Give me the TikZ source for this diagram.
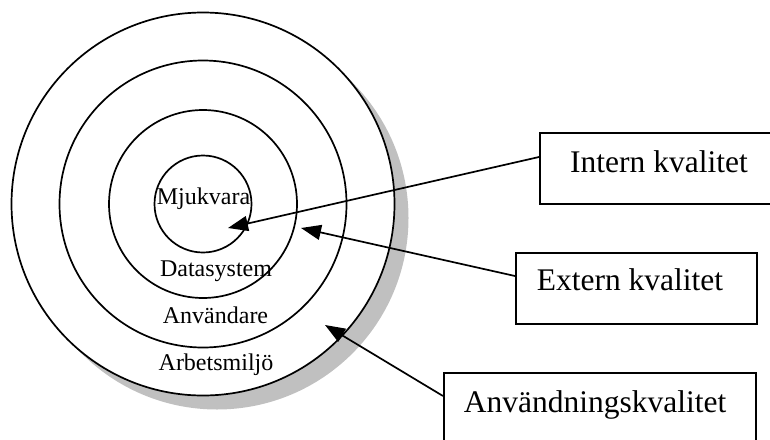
\documentclass[tikz,border=0pt]{standalone}
\usepackage{fontspec}
\setmainfont{Liberation Serif}
\usetikzlibrary{arrows.meta}
\definecolor{shadowgray}{RGB}{192,192,192}
\begin{document}
\begin{tikzpicture}[x=1pt,y=-1pt,
  ring/.style={circle, draw, line width=1.7pt, minimum size=#1, inner sep=0pt},
  layer/.style={anchor=base, inner sep=0pt, font=\fontsize{24}{26}\selectfont},
  qbox/.style={draw, line width=1.7pt, anchor=north west, inner sep=0pt, minimum height=#1},
  qlabel/.style={anchor=base, inner sep=0pt, font=\fontsize{31.5}{34}\selectfont},
  arr/.style={line width=1.7pt, -{Triangle[length=20pt,width=15pt]}}]
\useasboundingbox (0,0) rectangle (770,439);
\clip (0,0) rectangle (770,439);

% shadow behind the outer ring
\fill[shadowgray] (217,218) circle[radius=191.5pt];

% concentric rings
\node[ring=383pt, fill=white] (env) at (203,204) {};
\node[ring=287pt] (user) at (203,204) {};
\node[ring=188pt] (sys) at (203,204) {};
\node[ring=97pt] (sw) at (203,204) {};

% ring labels
\node[layer] (lsw) at (203.5,204) {Mjukvara};
\node[layer] (lsys) at (216,276) {Datasystem};
\node[layer] (luser) at (215.5,323) {Användare};
\node[layer] (lenv) at (216,370) {Arbetsmiljö};

% quality boxes
\node[qbox=71pt, minimum width=260pt] (intern) at (539,132) {};
\node[qbox=71pt, minimum width=241pt] (extern) at (515,252) {};
\node[qbox=100pt, minimum width=312pt] (usage) at (443,372) {};
\node[qlabel] (lintern) at (659,172) {Intern kvalitet};
\node[qlabel] (lextern) at (630,290) {Extern kvalitet};
\node[qlabel] (lusage) at (595,412) {Användningskvalitet};

% arrow targets
\coordinate (tintern) at (228,228);
\coordinate (textern) at (301,228);
\coordinate (tusage) at (325,325);

\draw[arr] ([yshift=-25pt]intern.north west) -- (tintern);
\draw[arr] ([yshift=-24pt]extern.north west) -- (textern);
\draw[arr] ([yshift=-24pt]usage.north west) -- (tusage);
\end{tikzpicture}
\end{document}
